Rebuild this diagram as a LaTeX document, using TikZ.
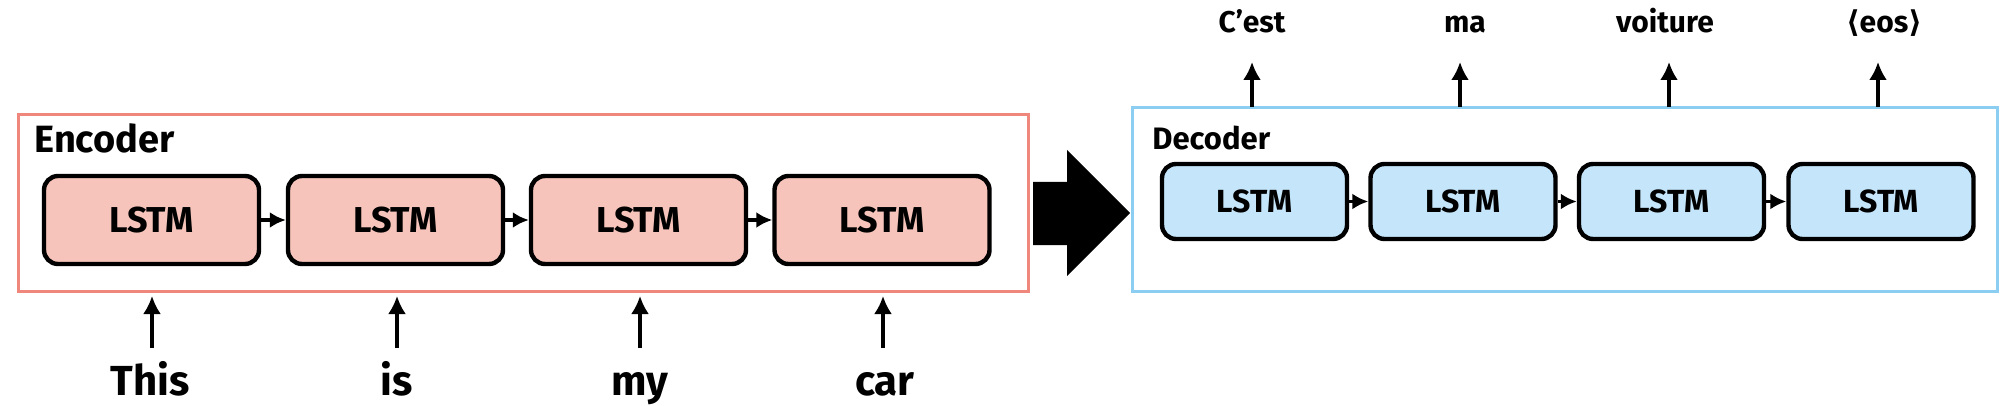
\documentclass[tikz,border=0pt]{standalone}
\usepackage{fontspec}
\setmainfont{Fira Sans}
\newfontfamily\symfont{DejaVu Sans}
\usetikzlibrary{arrows.meta}
\definecolor{encfill}{RGB}{246,196,186}
\definecolor{encline}{RGB}{240,135,125}
\definecolor{decfill}{RGB}{197,230,250}
\definecolor{decline}{RGB}{140,205,242}
\begin{document}
\begin{tikzpicture}[x=0.5pt,y=-0.5pt,
  encbox/.style={draw=black,line width=2.2pt,rounded corners=7pt,fill=encfill,
    minimum width=107.5pt,minimum height=44pt,inner sep=0pt,
    font=\fontsize{18}{20}\selectfont\bfseries},
  decbox/.style={draw=black,line width=2.2pt,rounded corners=7pt,fill=decfill,
    minimum width=92.5pt,minimum height=37.5pt,inner sep=0pt,
    font=\fontsize{16}{18}\selectfont\bfseries},
  link/.style={line width=1.6pt,-{Latex[length=8pt,width=8pt]}},
  uparrow/.style={line width=1.6pt,-{Latex[length=9pt,width=9pt]}},
  word/.style={anchor=base,inner sep=0pt},
  inword/.style={word,font=\fontsize{21}{24}\selectfont\bfseries},
  outword/.style={word,font=\fontsize{15}{18}\selectfont\bfseries},
  title/.style={anchor=base west,inner sep=0pt}
]
\useasboundingbox (0,0) rectangle (2000,406);
% frames
\node[draw=encline,line width=1.5pt,minimum width=505pt,minimum height=88pt,inner sep=0pt] (enc) at (523,203) {};
\node[draw=decline,line width=1.5pt,minimum width=432.5pt,minimum height=91.5pt,inner sep=0pt] (dec) at (1564.5,199.5) {};
\node[title,font=\fontsize{19}{21}\selectfont\bfseries] (enct) at (34,153) {Encoder};
\node[title,font=\fontsize{15.5}{18}\selectfont\bfseries] (dect) at (1152,150) {Decoder};
% encoder cells
\node[encbox] (e1) at (151.5,220) {LSTM};
\node[encbox] (e2) at (395.5,220) {LSTM};
\node[encbox] (e3) at (638.5,220) {LSTM};
\node[encbox] (e4) at (882,220) {LSTM};
\draw[link] (e1) -- (e2);
\draw[link] (e2) -- (e3);
\draw[link] (e3) -- (e4);
% decoder cells
\node[decbox] (d1) at (1254.5,201.5) {LSTM};
\node[decbox] (d2) at (1463,201.5) {LSTM};
\node[decbox] (d3) at (1671.5,201.5) {LSTM};
\node[decbox] (d4) at (1881,201.5) {LSTM};
\draw[link] (d1) -- (d2);
\draw[link] (d2) -- (d3);
\draw[link] (d3) -- (d4);
% inputs
\node[inword] (w1) at (150,395) {This};
\node[inword] (w2) at (397,395) {is};
\node[inword] (w3) at (640,395) {my};
\node[inword] (w4) at (885,395) {car};
\foreach \i/\x in {1/152,2/397,3/640,4/883}{
  \coordinate (ib\i) at (\x,348);
  \coordinate (it\i) at (\x,296);
  \draw[uparrow] (ib\i) -- (it\i);
}
% outputs
\node[outword] (o1) at (1252,33) {C’est};
\node[outword] (o2) at (1465,33) {ma};
\node[outword] (o3) at (1665,33) {voiture};
\node[outword] (o4) at (1884,33) {{\symfont\bfseries ⟨}eos{\symfont\bfseries ⟩}};
\foreach \i/\x in {1/1252,2/1460,3/1669,4/1878}{
  \coordinate (ob\i) at (\x,107);
  \coordinate (ot\i) at (\x,62);
  \draw[uparrow] (ob\i) -- (ot\i);
}
% big arrow
\fill[black] (1033,182) -- (1067,182) -- (1067,150) -- (1130,213) -- (1067,276) -- (1067,245) -- (1033,245) -- cycle;
\end{tikzpicture}
\end{document}
